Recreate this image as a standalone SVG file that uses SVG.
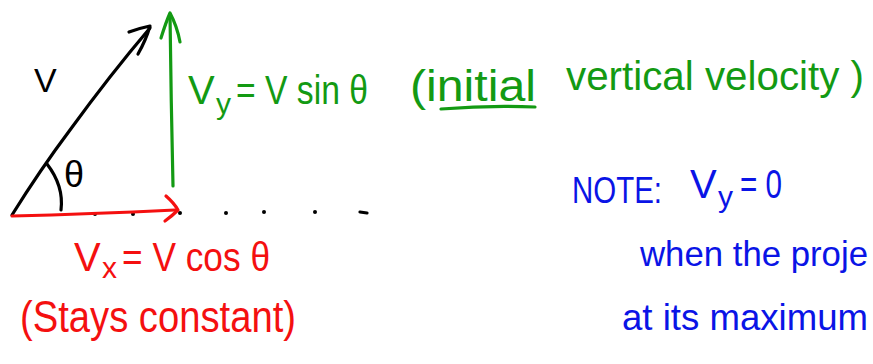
<svg xmlns="http://www.w3.org/2000/svg" width="873" height="364" viewBox="0 0 873 364">
<style>
.ink{fill:none;stroke-width:3.2;stroke-linecap:round;stroke-linejoin:round}
.k{stroke:#000}.g{stroke:#139a13}.r{stroke:#f41010}.b{stroke:#0a14e6}
.t{font-family:"Liberation Sans","DejaVu Sans",sans-serif}
.tg{fill:#139a13}.tr{fill:#f41010}.tb{fill:#0a14e6}.tk{fill:#000}
</style>
<rect width="873" height="364" fill="#fff"/>
<g id="dots" fill="#000">
<circle cx="95" cy="214" r="2"/><circle cx="133" cy="214" r="2"/><circle cx="180" cy="213" r="2"/>
<circle cx="226" cy="213" r="2"/><circle cx="264" cy="212" r="2"/><circle cx="315" cy="212" r="2"/>
<path class="ink k" d="M360 212 L367 213"/>
</g>
<g id="connectors">
<path class="ink k" d="M12 215 Q40 170 70 130 Q110 75 150 28"/>
<path class="ink k" d="M129 32 Q140 28 150 26 Q146 40 138 54"/>
<path class="ink k" d="M47 164 Q64 186 61 210"/>
<path class="ink g" d="M173 186 Q171 100 170 14"/>
<path class="ink g" d="M161 38 Q166 22 170 13 Q177 26 180 42"/>
<path class="ink r" d="M12 216 Q90 214 175 210"/>
<path class="ink r" d="M166 196 Q174 203 178 210 Q172 216 165 221"/>
<path class="ink g" d="M441 109 Q490 105 535 107"/>
</g>
<g id="label-v"><text class="t tk" x="34" y="92" font-size="34">V</text></g>
<g id="label-theta"><text class="t tk" x="64" y="187" font-size="36">θ</text></g>
<g id="vy-eq">
<text class="t tg" x="188" y="104" font-size="40">V</text>
<text class="t tg" x="216" y="114" font-size="30">y</text>
<text class="t tg" x="236" y="104" font-size="40" textLength="132" lengthAdjust="spacingAndGlyphs">= V sin θ</text>
</g>
<g id="vy-note"><text class="t tg" x="410" y="101" font-size="44" textLength="126" lengthAdjust="spacingAndGlyphs">(initial</text>
<text class="t tg" x="566" y="90" font-size="40" textLength="298" lengthAdjust="spacingAndGlyphs">vertical velocity )</text></g>
<g id="vx-eq">
<text class="t tr" x="74" y="271" font-size="40">V</text>
<text class="t tr" x="102" y="278" font-size="30">x</text>
<text class="t tr" x="122" y="271" font-size="40" textLength="148" lengthAdjust="spacingAndGlyphs">= V cos θ</text>
</g>
<g id="vx-note"><text class="t tr" x="20" y="332" font-size="44" textLength="276" lengthAdjust="spacingAndGlyphs">(Stays constant)</text></g>
<g id="note"><text class="t tb" x="572" y="203" font-size="37" textLength="90" lengthAdjust="spacingAndGlyphs">NOTE:</text>
<text class="t tb" x="690" y="198" font-size="40">V</text>
<text class="t tb" x="718" y="207" font-size="30">y</text>
<text class="t tb" x="740" y="198" font-size="40" textLength="42" lengthAdjust="spacingAndGlyphs">= 0</text>
<text class="t tb" x="640" y="266" font-size="35" textLength="228" lengthAdjust="spacingAndGlyphs">when the proje</text>
<text class="t tb" x="622" y="330" font-size="36" textLength="246" lengthAdjust="spacingAndGlyphs">at its maximum</text></g>
</svg>
